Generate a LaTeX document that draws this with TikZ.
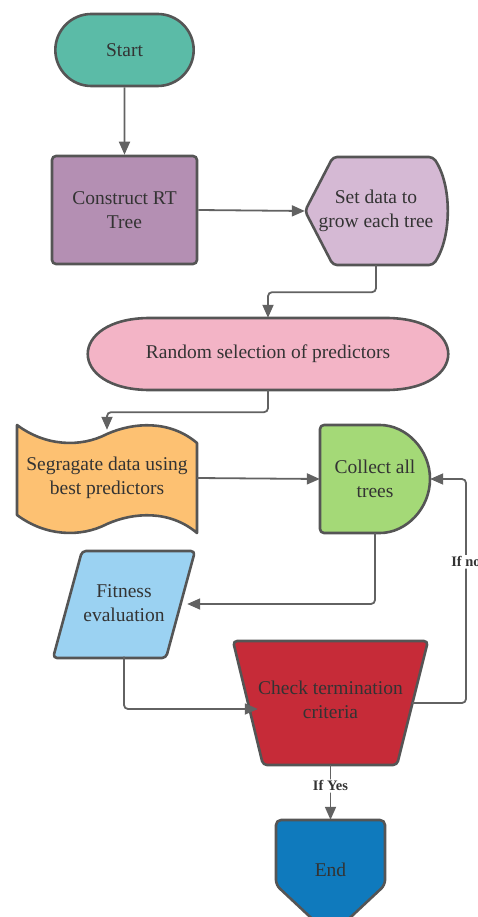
\documentclass[tikz,border=0pt]{standalone}
\usepackage{fontspec}
\setmainfont{Liberation Serif}
\usetikzlibrary{shapes.misc, arrows.meta}

\definecolor{edgegray}{HTML}{555555}
\definecolor{linkgray}{HTML}{626262}
\definecolor{textgray}{HTML}{333333}
\definecolor{startteal}{HTML}{5BBBA7}
\definecolor{treeplum}{HTML}{B48FB3}
\definecolor{setlilac}{HTML}{D5B9D4}
\definecolor{randpink}{HTML}{F3B4C6}
\definecolor{segorange}{HTML}{FDC172}
\definecolor{collgreen}{HTML}{A4D977}
\definecolor{fitblue}{HTML}{9BD2F2}
\definecolor{checkred}{HTML}{C62B38}
\definecolor{endblue}{HTML}{0F7ABD}

\begin{document}
\begin{tikzpicture}[
    x=1pt, y=-1pt,
    every node/.style={text=textgray, align=center, font=\fontsize{19.5}{24}\selectfont},
    block/.style={draw=edgegray, line width=2.6pt},
    outline/.style={draw=edgegray, line width=2.6pt, line join=round},
    link/.style={draw=linkgray, line width=1.8pt, rounded corners=4pt, -{Triangle[length=13pt, width=11pt]}},
    tag/.style={fill=white, inner sep=1.5pt, font=\bfseries\fontsize{14.5}{17}\selectfont},
]
  \useasboundingbox (0,0) rectangle (478,917);

  % shapes with no ready-made node shape
  \filldraw[outline, rounded corners=4pt, fill=setlilac] (305,211) -- (333,157) -- (433,157)
    .. controls (452,185) and (452,237) .. (433,265) -- (333,265) -- cycle;
  \filldraw[outline, fill=randpink] (150,318) -- (386,318)
    .. controls (469,318) and (469,390) .. (386,390) -- (150,390)
    .. controls (67,390) and (67,318) .. (150,318) -- cycle;
  \filldraw[outline, fill=segorange] (17,425)
    .. controls (45,446) and (80,448) .. (107,434)
    .. controls (134,422) and (170,420) .. (197,443) -- (197,533)
    .. controls (170,510) and (134,512) .. (107,524)
    .. controls (80,538) and (45,536) .. (17,515) -- cycle;
  \filldraw[outline, rounded corners=4pt, fill=collgreen] (320,425) -- (376,425)
    arc[start angle=-90, end angle=90, radius=54] -- (320,533) -- cycle;
  \filldraw[outline, rounded corners=4pt, fill=fitblue] (82,551) -- (195,551) -- (166,658) -- (53,658) -- cycle;
  \filldraw[outline, rounded corners=4pt, fill=checkred] (233,641) -- (428,641) -- (397,765) -- (263,765) -- cycle;
  \filldraw[outline, fill=endblue, rounded corners=5pt] (276,820) -- (385,820)
    -- (385,885) -- (330.5,936) -- (276,885) -- cycle;

  \node[block, rounded rectangle, fill=startteal, minimum width=145pt, minimum height=72pt] (start) at (124.5,50) {Start};
  \node[block, rectangle, rounded corners=4pt, fill=treeplum, minimum width=145pt, minimum height=108pt] (construct) at (124.5,210) {Construct RT\\Tree};
  \node[minimum width=142pt, minimum height=108pt] (setdata) at (376,211) {Set data to\\grow each tree};
  \node[minimum width=360pt, minimum height=72pt] (random) at (268,354) {Random selection of predictors};
  \node[minimum width=180pt, minimum height=108pt] (segregate) at (107,478) {Segragate data using\\best predictors};
  \node[minimum width=110pt, minimum height=108pt] (collect) at (375,479) {Collect all\\trees};
  \node[minimum width=142pt, minimum height=107pt] (fitness) at (124,603) {Fitness\\evaluation};
  \node[minimum width=195pt, minimum height=124pt] (check) at (330.5,700) {Check termination\\criteria};
  \node[minimum width=109pt, minimum height=100pt] (end) at (330.5,870) {End};

  \draw[link] (start) -- (construct);
  \draw[link] (construct.east) -- (setdata.west);
  \draw[link] (setdata.south) -- ++(0,27) -| (random.north);
  \draw[link] (random.south) -- ++(0,22) -| ([yshift=-6pt]segregate.north);
  \draw[link] (segregate.east) -- (collect.west);
  \draw[link] (collect.south) |- ([xshift=-8pt, yshift=-1pt]fitness.east);
  \draw[link] (fitness.south) |- ([xshift=25pt, yshift=-9pt]check.west);
  \draw[link] ([xshift=-16pt, yshift=-3pt]check.east) -- (466,703) |- node[tag, pos=0.315] {If no} (collect.east);
  \draw[link] ([yshift=-3pt]check.south) -- node[tag, pos=0.38] {If Yes} (end.north);
\end{tikzpicture}
\end{document}
